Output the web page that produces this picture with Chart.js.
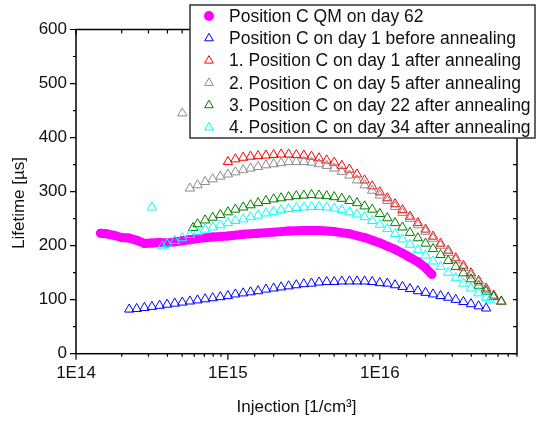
<!DOCTYPE html>
<html lang="en">
<head>
<meta charset="UTF-8">
<title>Lifetime vs injection</title>
<script src="https://cdn.jsdelivr.net/npm/chart.js@4.4.0/dist/chart.umd.min.js"></script>
<style>
  body { margin: 0; background: #fff; }
  #wrap { width: 536px; height: 421px; }
</style>
</head>
<body>
<div id="wrap"><canvas id="chart"></canvas></div>
<script>
// injection [1/cm3] / lifetime [us]
var seriesNames = [
  'Position C QM on day 62',
  'Position C on day 1 before annealing',
  '1. Position C on day 1 after annealing',
  '2. Position C on day 5 after annealing',
  '3. Position C on day 22 after annealing',
  '4. Position C on day 34 after annealing'
];

var qmX = [1.45e14, 1.58e14, 1.78e14, 2.00e14, 2.24e14, 2.51e14, 2.82e14, 3.16e14, 3.55e14, 3.98e14,
  4.47e14, 5.01e14, 5.62e14, 6.31e14, 7.94e14, 1.00e15, 1.26e15, 1.58e15, 2.00e15, 2.51e15,
  3.16e15, 3.98e15, 5.01e15, 6.31e15, 7.94e15, 8.91e15, 1.00e16, 1.12e16, 1.26e16, 1.41e16,
  1.58e16, 1.78e16, 2.00e16, 2.20e16];
var qmY = [223, 222, 219, 215, 214, 210, 204, 205, 206, 205,
  207, 209, 211, 213, 216, 218, 221, 223, 225, 227,
  228, 228, 226, 222, 215, 210, 205, 199, 193, 186,
  178, 170, 159, 147];

var beforeX = [2.24e14, 2.51e14, 2.82e14, 3.16e14, 3.55e14, 3.98e14, 4.47e14, 5.01e14, 5.62e14, 6.31e14, 7.08e14, 7.94e14, 8.91e14,
  1.00e15, 1.12e15, 1.26e15, 1.41e15, 1.58e15, 1.78e15, 2.00e15, 2.24e15, 2.51e15, 2.82e15,
  3.16e15, 3.55e15, 3.98e15, 4.47e15, 5.01e15, 5.62e15, 6.31e15, 7.08e15, 7.94e15, 8.91e15,
  1.00e16, 1.12e16, 1.26e16, 1.41e16, 1.58e16, 1.78e16, 2.00e16, 2.24e16, 2.51e16, 2.82e16,
  3.16e16, 3.55e16, 3.98e16, 4.47e16, 5.01e16];
var beforeY = [82, 83, 85, 87, 89, 91, 93, 95, 97, 99, 101, 103, 105,
  107, 110, 112, 114, 116, 119, 121, 123, 125, 127,
  129, 130, 132, 133, 133, 134, 134, 134, 134, 133,
  131, 130, 127, 124, 120, 116, 113, 110, 107, 104,
  100, 96, 92, 88, 84];

var day1X = [1.00e15, 1.12e15, 1.26e15, 1.41e15, 1.58e15, 1.78e15, 2.00e15, 2.24e15, 2.51e15, 2.82e15,
  3.16e15, 3.55e15, 3.98e15, 4.47e15, 5.01e15, 5.62e15, 6.31e15, 7.08e15, 7.94e15, 8.91e15,
  1.00e16, 1.12e16, 1.26e16, 1.41e16, 1.58e16, 1.78e16, 2.00e16, 2.24e16, 2.51e16, 2.82e16,
  3.16e16, 3.55e16, 3.98e16, 4.47e16, 5.01e16, 5.62e16, 6.31e16];
var day1Y = [355, 360, 363, 365, 366, 367, 368, 369, 369, 368,
  367, 365, 362, 358, 354, 348, 341, 332, 321, 310,
  299, 288, 277, 266, 254, 242, 230, 217, 204, 191,
  177, 163, 149, 135, 121, 108, 96];

var day5X = [5.01e14, 5.62e14, 6.31e14, 7.08e14, 7.94e14, 8.91e14,
  1.00e15, 1.12e15, 1.26e15, 1.41e15, 1.58e15, 1.78e15, 2.00e15, 2.24e15, 2.51e15, 2.82e15,
  3.16e15, 3.55e15, 3.98e15, 4.47e15, 5.01e15, 5.62e15, 6.31e15, 7.08e15, 7.94e15, 8.91e15,
  1.00e16, 1.12e16, 1.26e16, 1.41e16, 1.58e16, 1.78e16, 2.00e16, 2.24e16, 2.51e16, 2.82e16,
  3.16e16, 3.55e16, 3.98e16, 4.47e16, 5.01e16, 5.62e16, 6.31e16];
var day5Y = [445, 306, 312, 318, 323, 328,
  332, 336, 340, 343, 346, 349, 351, 353, 355, 355,
  355, 354, 351, 348, 343, 337, 330, 321, 312, 302,
  293, 283, 272, 261, 250, 238, 226, 213, 200, 187,
  173, 159, 145, 132, 118, 106, 96];

var day22X = [5.90e14, 6.31e14, 7.08e14, 7.94e14, 8.91e14,
  1.00e15, 1.12e15, 1.26e15, 1.41e15, 1.58e15, 1.78e15, 2.00e15, 2.24e15, 2.51e15, 2.82e15,
  3.16e15, 3.55e15, 3.98e15, 4.47e15, 5.01e15, 5.62e15, 6.31e15, 7.08e15, 7.94e15, 8.91e15,
  1.00e16, 1.12e16, 1.26e16, 1.41e16, 1.58e16, 1.78e16, 2.00e16, 2.24e16, 2.51e16, 2.82e16,
  3.16e16, 3.55e16, 3.98e16, 4.47e16, 5.01e16, 5.62e16, 6.31e16];
var day22Y = [233, 240, 247, 252, 257,
  262, 267, 271, 275, 279, 283, 286, 288, 290, 292,
  293, 294, 293, 292, 290, 287, 283, 279, 273, 267,
  259, 251, 242, 234, 224, 214, 204, 194, 183, 172,
  161, 149, 138, 126, 115, 105, 97];

var day34X = [3.16e14, 3.70e14, 3.98e14, 4.47e14, 5.01e14, 5.62e14, 6.31e14, 7.08e14, 7.94e14, 8.91e14,
  1.00e15, 1.12e15, 1.26e15, 1.41e15, 1.58e15, 1.78e15, 2.00e15, 2.24e15, 2.51e15, 2.82e15,
  3.16e15, 3.55e15, 3.98e15, 4.47e15, 5.01e15, 5.62e15, 6.31e15, 7.08e15, 7.94e15, 8.91e15,
  1.00e16, 1.12e16, 1.26e16, 1.41e16, 1.58e16, 1.78e16, 2.00e16, 2.24e16, 2.51e16, 2.82e16,
  3.16e16, 3.55e16, 3.98e16, 4.47e16, 5.01e16, 5.30e16];
var day34Y = [271, 199, 203, 209, 214, 220, 225, 230, 234, 238,
  242, 246, 249, 253, 256, 260, 263, 266, 268, 270,
  271, 272, 272, 271, 269, 266, 262, 258, 253, 246,
  239, 231, 222, 212, 202, 192, 182, 171, 161, 150,
  140, 130, 121, 112, 104, 99];

var xTickLabels = ['1E14', '1E15', '1E16'];
var yTickLabels = [0, 100, 200, 300, 400, 500, 600];
var xTitle = 'Injection [1/cm³]';
var yTitle = 'Lifetime [µs]';

function pts(xs, ys) {
  return xs.map(function (x, i) { return { x: x, y: ys[i] }; });
}

function tri(color, xs, ys, name) {
  return {
    label: name,
    data: pts(xs, ys),
    pointStyle: 'triangle',
    pointRadius: 5.4,
    borderWidth: 1,
    borderColor: color,
    pointBorderColor: color,
    pointBackgroundColor: 'rgba(0,0,0,0)',
    showLine: false
  };
}

var datasets = [
  {
    label: seriesNames[0],
    data: pts(qmX, qmY),
    showLine: true,
    borderColor: '#ff00ff',
    borderWidth: 9,
    borderCapStyle: 'round',
    borderJoinStyle: 'round',
    pointStyle: 'circle',
    pointRadius: 4.5,
    pointBorderWidth: 0,
    pointBackgroundColor: '#ff00ff',
    order: 6
  },
  Object.assign(tri('#0000ff', beforeX, beforeY, seriesNames[1]), { order: 5 }),
  Object.assign(tri('#ff0000', day1X, day1Y, seriesNames[2]), { order: 4 }),
  Object.assign(tri('#8c8c8c', day5X, day5Y, seriesNames[3]), { order: 3 }),
  Object.assign(tri('#008000', day22X, day22Y, seriesNames[4]), { order: 2 }),
  Object.assign(tri('#00ffff', day34X, day34Y, seriesNames[5]), { order: 1 })
];

function marker(ctx, style, color, x, y, r) {
  ctx.beginPath();
  if (style === 'circle') {
    ctx.arc(x, y, r, 0, Math.PI * 2);
    ctx.fillStyle = color;
    ctx.fill();
    return;
  }
  ctx.moveTo(x, y - r);
  ctx.lineTo(x + r * 0.866, y + r * 0.5);
  ctx.lineTo(x - r * 0.866, y + r * 0.5);
  ctx.closePath();
  ctx.strokeStyle = color;
  ctx.lineWidth = 1;
  ctx.stroke();
}

// frame, mirrored ticks, y title and boxed legend
var framePlugin = {
  id: 'frame',
  afterDraw: function (chart) {
    var ctx = chart.ctx, a = chart.chartArea;
    var xs = chart.scales.x, ys = chart.scales.y;
    ctx.save();
    ctx.strokeStyle = '#000';
    ctx.lineWidth = 1.5;
    ctx.strokeRect(a.left, a.top, a.right - a.left, a.bottom - a.top);

    ctx.lineWidth = 1.2;
    ctx.beginPath();
    xs.ticks.forEach(function (t) {
      var p = xs.getPixelForValue(t.value);
      if (p < a.left - 0.5 || p > a.right + 0.5) return;
      var e = Math.log10(t.value);
      var major = Math.abs(e - Math.round(e)) < 1e-9;
      ctx.moveTo(p, a.bottom); ctx.lineTo(p, a.bottom + (major ? 6 : 3));
      ctx.moveTo(p, a.top); ctx.lineTo(p, a.top + (major ? 5 : 4));
    });
    ys.ticks.forEach(function (t) {
      var p = ys.getPixelForValue(t.value);
      var major = t.value % 100 === 0;
      ctx.moveTo(a.left, p); ctx.lineTo(a.left - (major ? 6 : 3), p);
      ctx.moveTo(a.right, p); ctx.lineTo(a.right - 4, p);
    });
    ctx.stroke();

    ctx.font = '17px "Liberation Sans", Arial, sans-serif';
    ctx.fillStyle = '#111';
    ctx.save();
    ctx.translate(19, 203);
    ctx.rotate(-Math.PI / 2);
    ctx.textAlign = 'center';
    ctx.textBaseline = 'middle';
    ctx.fillText(yTitle, 0, 0);
    ctx.restore();

    // legend
    var lx = 190, ly = 5, lw = 345, lh = 133;
    ctx.fillStyle = '#fff';
    ctx.fillRect(lx, ly, lw, lh);
    ctx.strokeStyle = '#333';
    ctx.lineWidth = 1.5;
    ctx.strokeRect(lx, ly, lw, lh);
    ctx.font = '17.5px "Liberation Sans", Arial, sans-serif';
    ctx.textBaseline = 'middle';
    ctx.textAlign = 'left';
    chart.data.datasets.forEach(function (ds, i) {
      var y = 16 + i * 22.3;
      var c = ds.pointStyle === 'circle' ? ds.pointBackgroundColor : ds.pointBorderColor;
      marker(ctx, ds.pointStyle, c, 209, y, 5);
      ctx.fillStyle = '#111';
      ctx.fillText(ds.label, 229, y + 1);
    });
    ctx.restore();
  }
};

Chart.defaults.font.family = '"Liberation Sans", Arial, sans-serif';
Chart.defaults.font.size = 17;
Chart.defaults.color = '#111';

new Chart(document.getElementById('chart'), {
  type: 'scatter',
  data: { datasets: datasets },
  plugins: [framePlugin],
  options: {
    responsive: true,
    maintainAspectRatio: false,
    animation: false,
    events: [],
    layout: { padding: { top: 29.5, right: 19, bottom: 0, left: 0 } },
    plugins: { legend: { display: false }, tooltip: { enabled: false } },
    scales: {
      x: {
        type: 'logarithmic',
        min: 1e14,
        max: 8e16,
        grid: { display: false, drawTicks: false },
        border: { display: false },
        ticks: {
          autoSkip: false,
          maxRotation: 0,
          padding: 9,
          callback: function (v) {
            var e = Math.log10(v);
            var r = Math.round(e);
            if (Math.abs(e - r) > 1e-9) return '';
            var s = '1E' + r;
            return xTickLabels.indexOf(s) >= 0 ? s : '';
          }
        },
        title: { display: true, text: xTitle, padding: { top: 0, bottom: 3 } },
        afterFit: function (s) { s.height = 67.3; }
      },
      y: {
        min: 0,
        max: 600,
        grid: { display: false, drawTicks: false },
        border: { display: false },
        ticks: {
          stepSize: 50,
          padding: 9,
          callback: function (v) { return yTickLabels.indexOf(v) >= 0 ? String(v) : ''; }
        },
        afterFit: function (s) { s.width = 76; }
      }
    }
  }
});
</script>
</body>
</html>
